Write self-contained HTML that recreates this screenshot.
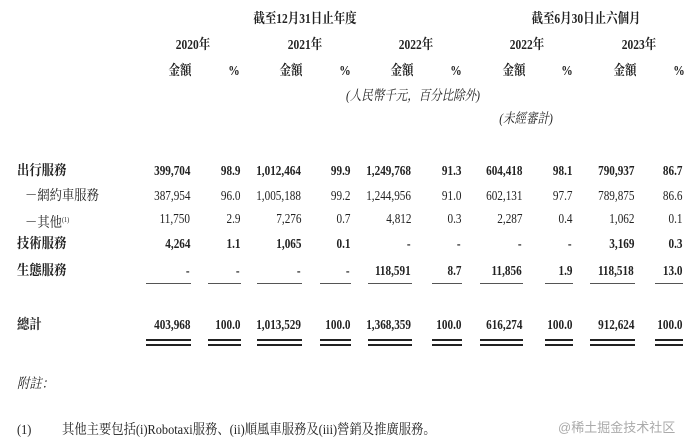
<!DOCTYPE html>
<html><head><meta charset="utf-8"><style>
body{margin:0;width:692px;height:447px;background:#fff;position:relative;overflow:hidden;font-family:"Liberation Serif","Noto Serif CJK SC",serif;color:#222;}
div{position:absolute;white-space:nowrap;line-height:16px;font-size:14px;}
.r{transform:scaleX(0.8);transform-origin:right center;}
.c{transform:translateX(-50%) scaleX(0.82);}
.l{transform:scaleX(0.88);transform-origin:left center;}
.b{font-weight:bold;}
.i{font-style:italic;}
.ln{height:1px;background:#555;}
.dl{height:2px;background:#222;}
</style></head><body>
<div class="c b" style="left:305px;top:12px">截至12月31日止年度</div>
<div class="c b" style="left:586px;top:12px">截至6月30日止六個月</div>

<div class="c b" style="left:193px;top:38px">2020年</div>
<div class="c b" style="left:305px;top:38px">2021年</div>
<div class="c b" style="left:416px;top:38px">2022年</div>
<div class="c b" style="left:527px;top:38px">2022年</div>
<div class="c b" style="left:639px;top:38px">2023年</div>

<div class="c b" style="left:180px;top:64px">金額</div><div class="c b" style="left:234px;top:64px">%</div>
<div class="c b" style="left:291px;top:64px">金額</div><div class="c b" style="left:345px;top:64px">%</div>
<div class="c b" style="left:402px;top:64px">金額</div><div class="c b" style="left:456px;top:64px">%</div>
<div class="c b" style="left:514px;top:64px">金額</div><div class="c b" style="left:567px;top:64px">%</div>
<div class="c b" style="left:625px;top:64px">金額</div><div class="c b" style="left:679px;top:64px">%</div>

<div class="c i" style="left:413px;top:89px">(人民幣千元，百分比除外)</div>
<div class="c i" style="left:526px;top:112px">(未經審計)</div>

<div class="l b" style="left:17px;top:164px">出行服務</div>
<div class="l" style="left:25px;top:189px">－網約車服務</div>
<div class="l" style="left:25px;top:212px">－其他<span style="font-size:7px;vertical-align:5px">(1)</span></div>
<div class="l b" style="left:17px;top:237px">技術服務</div>
<div class="l b" style="left:17px;top:264px">生態服務</div>
<div class="l b" style="left:17px;top:318px">總計</div>

<div class="r b" style="right:502px;top:164px">399,704</div><div class="r b" style="right:452px;top:164px">98.9</div>
<div class="r b" style="right:391px;top:164px">1,012,464</div><div class="r b" style="right:342px;top:164px">99.9</div>
<div class="r b" style="right:281px;top:164px">1,249,768</div><div class="r b" style="right:231px;top:164px">91.3</div>
<div class="r b" style="right:170px;top:164px">604,418</div><div class="r b" style="right:120px;top:164px">98.1</div>
<div class="r b" style="right:58px;top:164px">790,937</div><div class="r b" style="right:10px;top:164px">86.7</div>

<div class="r" style="right:502px;top:189px">387,954</div><div class="r" style="right:452px;top:189px">96.0</div>
<div class="r" style="right:391px;top:189px">1,005,188</div><div class="r" style="right:342px;top:189px">99.2</div>
<div class="r" style="right:281px;top:189px">1,244,956</div><div class="r" style="right:231px;top:189px">91.0</div>
<div class="r" style="right:170px;top:189px">602,131</div><div class="r" style="right:120px;top:189px">97.7</div>
<div class="r" style="right:58px;top:189px">789,875</div><div class="r" style="right:10px;top:189px">86.6</div>

<div class="r" style="right:502px;top:212px">11,750</div><div class="r" style="right:452px;top:212px">2.9</div>
<div class="r" style="right:391px;top:212px">7,276</div><div class="r" style="right:342px;top:212px">0.7</div>
<div class="r" style="right:281px;top:212px">4,812</div><div class="r" style="right:231px;top:212px">0.3</div>
<div class="r" style="right:170px;top:212px">2,287</div><div class="r" style="right:120px;top:212px">0.4</div>
<div class="r" style="right:58px;top:212px">1,062</div><div class="r" style="right:10px;top:212px">0.1</div>

<div class="r b" style="right:502px;top:237px">4,264</div><div class="r b" style="right:452px;top:237px">1.1</div>
<div class="r b" style="right:391px;top:237px">1,065</div><div class="r b" style="right:342px;top:237px">0.1</div>
<div class="r b" style="right:281px;top:237px">-</div><div class="r b" style="right:231px;top:237px">-</div>
<div class="r b" style="right:170px;top:237px">-</div><div class="r b" style="right:120px;top:237px">-</div>
<div class="r b" style="right:58px;top:237px">3,169</div><div class="r b" style="right:10px;top:237px">0.3</div>

<div class="r b" style="right:502px;top:264px">-</div><div class="r b" style="right:452px;top:264px">-</div>
<div class="r b" style="right:391px;top:264px">-</div><div class="r b" style="right:342px;top:264px">-</div>
<div class="r b" style="right:281px;top:264px">118,591</div><div class="r b" style="right:231px;top:264px">8.7</div>
<div class="r b" style="right:170px;top:264px">11,856</div><div class="r b" style="right:120px;top:264px">1.9</div>
<div class="r b" style="right:58px;top:264px">118,518</div><div class="r b" style="right:10px;top:264px">13.0</div>

<div class="r b" style="right:502px;top:318px">403,968</div><div class="r b" style="right:452px;top:318px">100.0</div>
<div class="r b" style="right:391px;top:318px">1,013,529</div><div class="r b" style="right:342px;top:318px">100.0</div>
<div class="r b" style="right:281px;top:318px">1,368,359</div><div class="r b" style="right:231px;top:318px">100.0</div>
<div class="r b" style="right:170px;top:318px">616,274</div><div class="r b" style="right:120px;top:318px">100.0</div>
<div class="r b" style="right:58px;top:318px">912,624</div><div class="r b" style="right:10px;top:318px">100.0</div>

<div class="ln" style="left:146px;width:45px;top:283px"></div><div class="ln" style="left:208px;width:33px;top:283px"></div>
<div class="ln" style="left:257px;width:45px;top:283px"></div><div class="ln" style="left:320px;width:31px;top:283px"></div>
<div class="ln" style="left:368px;width:44px;top:283px"></div><div class="ln" style="left:432px;width:30px;top:283px"></div>
<div class="ln" style="left:480px;width:43px;top:283px"></div><div class="ln" style="left:545px;width:28px;top:283px"></div>
<div class="ln" style="left:590px;width:45px;top:283px"></div><div class="ln" style="left:655px;width:28px;top:283px"></div>

<div class="dl" style="left:146px;width:45px;top:339px"></div><div class="dl" style="left:208px;width:33px;top:339px"></div>
<div class="dl" style="left:257px;width:45px;top:339px"></div><div class="dl" style="left:320px;width:31px;top:339px"></div>
<div class="dl" style="left:368px;width:44px;top:339px"></div><div class="dl" style="left:432px;width:30px;top:339px"></div>
<div class="dl" style="left:480px;width:43px;top:339px"></div><div class="dl" style="left:545px;width:28px;top:339px"></div>
<div class="dl" style="left:590px;width:45px;top:339px"></div><div class="dl" style="left:655px;width:28px;top:339px"></div>
<div class="dl" style="left:146px;width:45px;top:344px"></div><div class="dl" style="left:208px;width:33px;top:344px"></div>
<div class="dl" style="left:257px;width:45px;top:344px"></div><div class="dl" style="left:320px;width:31px;top:344px"></div>
<div class="dl" style="left:368px;width:44px;top:344px"></div><div class="dl" style="left:432px;width:30px;top:344px"></div>
<div class="dl" style="left:480px;width:43px;top:344px"></div><div class="dl" style="left:545px;width:28px;top:344px"></div>
<div class="dl" style="left:590px;width:45px;top:344px"></div><div class="dl" style="left:655px;width:28px;top:344px"></div>

<div class="l i" style="left:17px;top:377px">附註：</div>
<div class="l" style="left:17px;top:423px">(1)</div>
<div class="l" style="left:62px;top:423px">其他主要包括(i)Robotaxi服務、(ii)順風車服務及(iii)營銷及推廣服務。</div>
<div style="left:558px;top:420px;font-family:'Liberation Sans','Noto Sans CJK SC',sans-serif;color:#aaa;font-size:13px">@稀土掘金技术社区</div>
</body></html>
